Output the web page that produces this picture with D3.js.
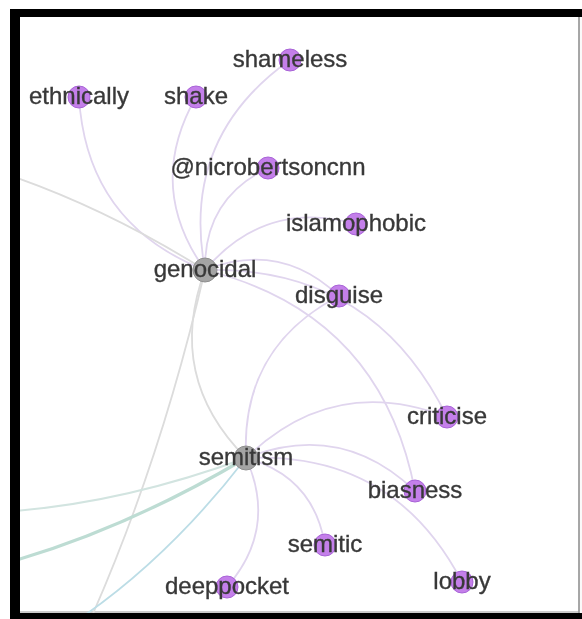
<!DOCTYPE html>
<html>
<head>
<meta charset="utf-8">
<script src="https://cdn.jsdelivr.net/npm/d3@7"></script>
<style>
body {
    margin: 0;
    background: #fff;
}
svg {
    display: block;
}
.label {
    font-family: "Liberation Sans", Arial, sans-serif;
    font-size: 24px;
    fill: #383838;
    stroke: #383838;
    stroke-width: 0.35px;
}
</style>
</head>
<body>
<svg></svg>
<script>
// layout coordinates of the visible nodes
const nodeNames = ["shameless", "ethnically", "shake", "@nicrobertsoncnn", "islamophobic",
    "genocidal", "disguise", "criticise", "semitism", "biasness", "semitic", "deeppocket", "lobby"];
const nodeX = [290, 79, 196, 268, 356, 205, 339, 447, 246, 415, 325, 227, 462];
const nodeY = [60, 97, 97, 168, 224, 270, 296, 417, 458, 491, 545, 587, 582];
const nodeKind = ["word", "word", "word", "word", "word", "hub", "word", "word", "hub", "word", "word", "word", "word"];

// nodes of the wider network that fall outside the crop
const hiddenNames = ["out-left", "out-bottom", "out-west1", "out-west2", "out-south"];
const hiddenX = [-675, -1030, -560, -700, -430];
const hiddenY = [280, 1480, 280, 425, 700];

// edges (source -> target), all drawn curving the same way
const edgeSource = ["ethnically", "shake", "shameless", "@nicrobertsoncnn", "islamophobic",
    "disguise", "criticise", "biasness", "genocidal", "out-bottom", "genocidal",
    "disguise", "criticise", "biasness", "lobby", "semitic", "deeppocket",
    "out-west1", "out-west2", "out-south"];
const edgeTarget = ["genocidal", "genocidal", "genocidal", "genocidal", "genocidal",
    "genocidal", "genocidal", "genocidal", "semitism", "genocidal", "out-left",
    "semitism", "semitism", "semitism", "semitism", "semitism", "semitism",
    "semitism", "semitism", "semitism"];
const edgeKind = ["word", "word", "word", "word", "word",
    "word", "word", "word", "hub", "hub", "hub",
    "word", "word", "word", "word", "word", "word",
    "teal", "green", "cyan"];

const width = 582, height = 619;
const svg = d3.select("svg").attr("width", width).attr("height", height);

const x = d3.scaleLinear().domain([0, 582]).range([0, width]);
const y = d3.scaleLinear().domain([0, 619]).range([0, height]);

const edgeColor = d3.scaleOrdinal()
    .domain(["word", "hub", "teal", "green", "cyan"])
    .range(["#e0d5ee", "#dcdcdc", "#d2e4e0", "#bddcd3", "#bcdde6"]);
const edgeWidth = d3.scaleOrdinal()
    .domain(["word", "hub", "teal", "green", "cyan"])
    .range([1.8, 1.8, 2, 3.2, 1.8]);

const pos = new Map();
nodeNames.forEach((n, i) => pos.set(n, [x(nodeX[i]), y(nodeY[i])]));
hiddenNames.forEach((n, i) => pos.set(n, [x(hiddenX[i]), y(hiddenY[i])]));

const defs = svg.append("defs");
defs.append("clipPath").attr("id", "frame")
    .append("rect").attr("x", 20).attr("y", 17).attr("width", 559).attr("height", 596);
defs.append("filter").attr("id", "soft")
    .append("feGaussianBlur").attr("stdDeviation", 0.6);

// frame
svg.append("rect").attr("width", width).attr("height", height).attr("fill", "#fff");
svg.append("rect").attr("x", 10).attr("y", 9).attr("width", 580).attr("height", 620).attr("fill", "#000");
svg.append("rect").attr("x", 20).attr("y", 17).attr("width", 562).attr("height", 596).attr("fill", "#fafafa");
svg.append("rect").attr("x", 20).attr("y", 17).attr("width", 559).attr("height", 595).attr("fill", "#fff");
svg.append("line").attr("x1", 579).attr("x2", 579).attr("y1", 17).attr("y2", 613)
    .attr("stroke", "#8a8a8a").attr("stroke-width", 1.5);
svg.append("line").attr("x1", 20).attr("x2", 579).attr("y1", 612).attr("y2", 612)
    .attr("stroke", "#9a9a9a").attr("stroke-width", 1.2);

const g = svg.append("g").attr("clip-path", "url(#frame)")
    .append("g").attr("filter", "url(#soft)");

const curve = 0.32;
function edgePath(i) {
    const [x0, y0] = pos.get(edgeSource[i]);
    const [x1, y1] = pos.get(edgeTarget[i]);
    const dx = x1 - x0, dy = y1 - y0;
    const cx = (x0 + x1) / 2 - dy * curve;
    const cy = (y0 + y1) / 2 + dx * curve;
    const p = d3.path();
    p.moveTo(x0, y0);
    p.quadraticCurveTo(cx, cy, x1, y1);
    return p.toString();
}

g.append("g").selectAll("path")
    .data(d3.range(edgeSource.length))
    .join("path")
    .attr("d", edgePath)
    .attr("fill", "none")
    .attr("stroke", i => edgeColor(edgeKind[i]))
    .attr("stroke-width", i => edgeWidth(edgeKind[i]));

g.append("g").selectAll("circle")
    .data(d3.range(nodeNames.length))
    .join("circle")
    .attr("cx", i => x(nodeX[i]))
    .attr("cy", i => y(nodeY[i]))
    .attr("r", i => nodeKind[i] === "hub" ? 12 : 11)
    .attr("fill", i => nodeKind[i] === "hub" ? "#a4a4a4" : "#c47fea")
    .attr("stroke", i => nodeKind[i] === "hub" ? "#8e8e8e" : "#a763d6")
    .attr("stroke-width", 1);

g.append("g").selectAll("text")
    .data(d3.range(nodeNames.length))
    .join("text")
    .attr("class", "label")
    .attr("x", i => x(nodeX[i]))
    .attr("y", i => y(nodeY[i]) + 1)
    .attr("text-anchor", "middle")
    .attr("dominant-baseline", "middle")
    .text(i => nodeNames[i]);
</script>
</body>
</html>
